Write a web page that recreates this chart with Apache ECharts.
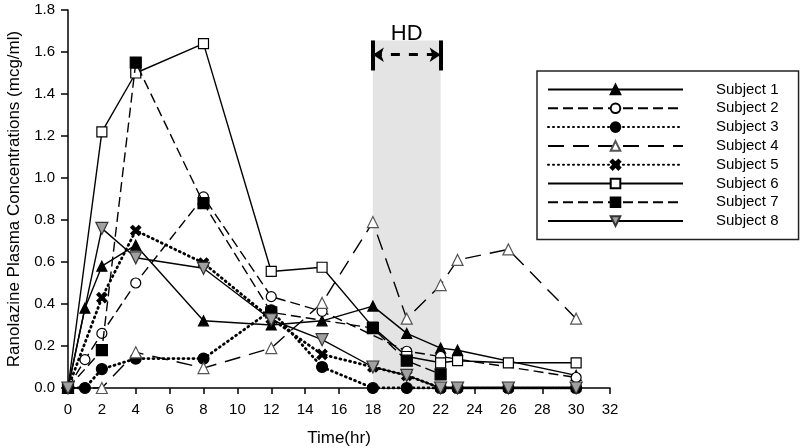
<!DOCTYPE html>
<html><head><meta charset="utf-8">
<script src="https://cdn.jsdelivr.net/npm/echarts@6/dist/echarts.min.js"></script>
<style>html,body{margin:0;padding:0;background:#fff}#c{width:800px;height:448px}</style>
</head><body><div id="c"></div>
<script>
const subjects = ['Subject 1','Subject 2','Subject 3','Subject 4','Subject 5','Subject 6','Subject 7','Subject 8'];
const t1 = [0,1,2,4,8,12,15,18,20,22,23,30];
const v1 = [0,0.38,0.58,0.68,0.32,0.30,0.32,0.39,0.26,0.19,0.18,0.06];
const t2 = [0,1,2,4,8,12,15,20,22,30];
const v2 = [0,0.135,0.26,0.50,0.91,0.435,0.365,0.175,0.15,0.05];
const t3 = [0,1,2,4,8,12,15,18,20,22,23,26,30];
const v3 = [0,0,0.09,0.14,0.14,0.37,0.10,0,0,0,0,0,0];
const t4 = [0,2,4,8,12,15,18,20,22,23,26,30];
const v4 = [0,0,0.17,0.095,0.19,0.405,0.79,0.33,0.49,0.61,0.66,0.33];
const t5 = [0,2,4,8,12,15,18,20,22,23,26,30];
const v5 = [0,0.43,0.75,0.595,0.33,0.16,0.10,0.06,0,0,0,0];
const t6 = [0,2,4,8,12,15,18,20,22,23,26,30];
const v6 = [0,1.22,1.50,1.64,0.555,0.575,0.29,0.15,0.12,0.13,0.12,0.12];
const t7 = [0,2,4,8,12,18,20,22];
const v7 = [0,0.18,1.55,0.88,0.36,0.285,0.13,0.065];
const t8 = [0,2,4,8,12,15,18,20,22,23,26,30];
const v8 = [0,0.76,0.62,0.57,0.325,0.23,0.10,0.06,0,0,0,0];
const hdStart = 18, hdEnd = 22, hdTop = 1.655, hdBarLow = 1.512, hdArrowY = 1.587, hdLabel = 'HD';
const xTicks = {min:0, max:32, interval:2};
const yTicks = {min:0, max:1.8, interval:0.2};

const pairs = (t,v) => t.map((x,i)=>[x,v[i]]);
const X_PATH = 'path://M0,2 L2,0 L5,3 L8,0 L10,2 L7,5 L10,8 L8,10 L5,7 L2,10 L0,8 L3,5 Z';
const dotted = {type:[1,4], width:2.8, cap:'round'};
const styles = [
  {symbol:'triangle', size:10, fill:'#000', border:'#000', line:{type:'solid', width:1.4}},
  {symbol:'circle', size:10, fill:'#fff', border:'#000', line:{type:[10,5], width:1.4}},
  {symbol:'circle', size:11, fill:'#000', border:'#000', line:dotted},
  {symbol:'triangle', size:11, fill:'#fff', border:'#555', line:{type:[16,9], width:1.4}},
  {symbol:X_PATH, size:10, fill:'#000', border:'#000', line:dotted},
  {symbol:'rect', size:10, fill:'#fff', border:'#000', line:{type:'solid', width:1.4}},
  {symbol:'rect', size:11, fill:'#000', border:'#000', line:{type:[10,5], width:1.4}},
  {symbol:'triangle', size:12, fill:'#a0a0a0', border:'#333', rotate:180, line:{type:'solid', width:1.4}}
];
const data = [pairs(t1,v1),pairs(t2,v2),pairs(t3,v3),pairs(t4,v4),pairs(t5,v5),pairs(t6,v6),pairs(t7,v7),pairs(t8,v8)];
const FONT = 'Liberation Sans, Arial';

const series = [{
  name:'_hd', type:'line', data:[], z:1, silent:true,
  markArea:{silent:true, itemStyle:{color:'#e4e4e4'}, data:[[{coord:[hdStart,0]},{coord:[hdEnd,hdTop]}]]},
  markLine:{silent:true, symbol:'none', animation:false,
    data:[
      [{coord:[hdStart,hdBarLow], lineStyle:{color:'#000', width:4, type:'solid'}},{coord:[hdStart,hdTop]}],
      [{coord:[hdEnd,hdBarLow], lineStyle:{color:'#000', width:4, type:'solid'}},{coord:[hdEnd,hdTop]}],
      [{coord:[hdStart,hdArrowY], symbol:'arrow', symbolSize:[11,11], lineStyle:{color:'#000', width:3, type:[9,9]},
        label:{show:true, formatter:hdLabel, position:'insideMiddleTop', distance:10, color:'#000', fontSize:22, fontFamily:FONT}},
       {coord:[hdEnd,hdArrowY], symbol:'arrow', symbolSize:[11,11]}]
    ],
    label:{show:false}
  }
}];
subjects.forEach((n,i)=>{
  const s = styles[i];
  series.push({
    name:n, type:'line', data:data[i], z:3+i,
    symbol:s.symbol, symbolSize:s.size, symbolRotate:s.rotate||0, showAllSymbol:true,
    itemStyle:{color:s.fill, borderColor:s.border, borderWidth:1.2},
    lineStyle:Object.assign({color:'#000'}, s.line),
    animation:false
  });
});

const chart = echarts.init(document.getElementById('c'));
chart.setOption({
  animation:false,
  grid:{left:68, right:190, top:10, bottom:60, containLabel:false, outerBoundsMode:'none'},
  legend:{
    data:subjects, orient:'vertical', left:537, top:71,
    backgroundColor:'#fff', borderColor:'#222', borderWidth:1.5,
    padding:[11,20,11,10], itemWidth:135, itemHeight:12, itemGap:3.8,
    symbolRotate:'inherit',
    textStyle:{fontSize:15, color:'#000', fontFamily:FONT, padding:[0,0,0,28]}
  },
  xAxis:{
    type:'value', min:xTicks.min, max:xTicks.max, interval:xTicks.interval,
    name:'Time(hr)', nameLocation:'middle', nameGap:42,
    nameTextStyle:{fontSize:17, color:'#000', fontFamily:FONT},
    axisLine:{show:true, lineStyle:{color:'#000', width:1.5}},
    axisTick:{show:true, inside:false, length:6, lineStyle:{color:'#000', width:1.5}},
    axisLabel:{fontSize:15, color:'#000', margin:14, fontFamily:FONT},
    splitLine:{show:false}
  },
  yAxis:{
    type:'value', min:yTicks.min, max:yTicks.max, interval:yTicks.interval,
    name:'Ranolazine Plasma Concentrations (mcg/ml)', nameLocation:'middle', nameGap:44,
    nameTextStyle:{fontSize:17, color:'#000', fontFamily:FONT},
    axisLine:{show:true, lineStyle:{color:'#000', width:1.5}},
    axisTick:{show:true, inside:false, length:7, lineStyle:{color:'#000', width:1.5}},
    axisLabel:{fontSize:15, color:'#000', margin:13, fontFamily:FONT, formatter:v=>v.toFixed(1)},
    splitLine:{show:false}
  },
  series:series
});
</script></body></html>
